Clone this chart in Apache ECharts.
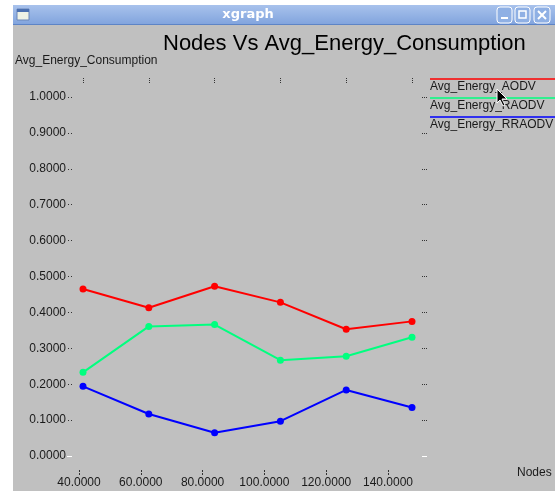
<!DOCTYPE html>
<html>
<head>
<meta charset="utf-8">
<script src="https://cdn.jsdelivr.net/npm/echarts@6/dist/echarts.min.js"></script>
<style>
html,body{margin:0;padding:0;background:#fff;}
#c{width:555px;height:491px;}
</style>
</head>
<body>
<div id="c"></div>
<script>
// ---- data ----
const nodes = [40, 60, 80, 100, 120, 140];
const aodv = [0.465, 0.413, 0.473, 0.428, 0.353, 0.375];
const raodv = [0.233, 0.361, 0.366, 0.267, 0.278, 0.331];
const rraodv = [0.194, 0.117, 0.065, 0.097, 0.184, 0.135];
const seriesNames = ['Avg_Energy_AODV', 'Avg_Energy_RAODV', 'Avg_Energy_RRAODV'];
const yTicks = [0.1, 0.2, 0.3, 0.4, 0.5, 0.6, 0.7, 0.8, 0.9, 1.0];
const yZeroTick = [0];
const titleText = 'Nodes Vs Avg_Energy_Consumption';
const yName = 'Avg_Energy_Consumption';
const xName = 'Nodes';
const windowTitle = 'xgraph';

const colors = ['#ff0000', '#00ff7f', '#0000ff'];
const FONT = '"Liberation Sans", Arial, sans-serif';
const TXT = '#1a1a1a';
const DOT = '#333333';

function pairs(vals) { return nodes.map((n, i) => [n, vals[i]]); }
const allVals = [aodv, raodv, rraodv];

const chart = echarts.init(document.getElementById('c'), null, {renderer: 'canvas'});

const legendGraphics = [];
seriesNames.forEach((name, i) => {
  const y = 79 + i * 19;
  legendGraphics.push({
    type: 'line', z: 10,
    shape: {x1: 430, y1: y, x2: 555, y2: y},
    style: {stroke: colors[i], lineWidth: 1.6}
  });
  legendGraphics.push({
    type: 'text', z: 10, x: 430, y: y + 2,
    style: {text: name, font: '12px ' + FONT, fill: TXT, textVerticalAlign: 'top'}
  });
});

const noLine = {show: false, onZero: false};

const option = {
  backgroundColor: '#ffffff',
  animation: false,
  graphic: [
    {type: 'rect', z: -10, shape: {x: 13, y: 25, width: 542, height: 466}, style: {fill: '#c0c0c0'}},
    {type: 'rect', z: -10, shape: {x: 13, y: 5, width: 542, height: 20},
      style: {fill: new echarts.graphic.LinearGradient(0, 0, 0, 1, [
        {offset: 0, color: '#a8c2ec'}, {offset: 1, color: '#80a3dd'}])}},
    {type: 'line', z: -9, shape: {x1: 13, y1: 24.5, x2: 555, y2: 24.5}, style: {stroke: '#5d84c6', lineWidth: 1}},
    // window icon
    {type: 'rect', z: -8, shape: {x: 17, y: 9, width: 12, height: 11}, style: {fill: '#eef2e6', stroke: '#6a86b8', lineWidth: 1}},
    {type: 'rect', z: -7, shape: {x: 17, y: 9, width: 12, height: 3}, style: {fill: '#4a6fb0'}},
    {type: 'text', z: -7, x: 248, y: 15,
      style: {text: windowTitle, font: 'bold 13px "DejaVu Sans", sans-serif', fill: '#ffffff', textAlign: 'center', textVerticalAlign: 'middle'}},
    // buttons
    {type: 'rect', z: -7, shape: {x: 497, y: 7, width: 15, height: 16, r: 3}, style: {fill: '#8fb0e4', stroke: '#ffffff', lineWidth: 1}},
    {type: 'line', z: -6, shape: {x1: 501, y1: 18, x2: 508, y2: 18}, style: {stroke: '#ffffff', lineWidth: 2}},
    {type: 'rect', z: -7, shape: {x: 515, y: 7, width: 15, height: 16, r: 3}, style: {fill: '#8fb0e4', stroke: '#ffffff', lineWidth: 1}},
    {type: 'rect', z: -6, shape: {x: 519, y: 11, width: 7, height: 7}, style: {fill: 'none', stroke: '#ffffff', lineWidth: 1.5}},
    {type: 'rect', z: -7, shape: {x: 534, y: 7, width: 16, height: 16, r: 3}, style: {fill: '#8fb0e4', stroke: '#ffffff', lineWidth: 1}},
    {type: 'line', z: -6, shape: {x1: 538, y1: 11, x2: 546, y2: 19}, style: {stroke: '#ffffff', lineWidth: 2}},
    {type: 'line', z: -6, shape: {x1: 546, y1: 11, x2: 538, y2: 19}, style: {stroke: '#ffffff', lineWidth: 2}},
    // texts
    {type: 'text', z: 5, x: 163, y: 44,
      style: {text: titleText, font: '22px ' + FONT, fill: '#000000', textVerticalAlign: 'middle'}},
    {type: 'text', z: 5, x: 15, y: 61,
      style: {text: yName, font: '12px ' + FONT, fill: TXT, textVerticalAlign: 'middle'}},
    {type: 'text', z: 5, x: 517, y: 473,
      style: {text: xName, font: '12px ' + FONT, fill: TXT, textVerticalAlign: 'middle'}},
    ...legendGraphics,
    // mouse cursor
    {type: 'polygon', z: 20, shape: {points: [[497, 89], [497, 103], [500, 100], [503, 106], [505, 105], [502, 99], [507, 99]]},
      style: {fill: '#000000', stroke: '#ffffff', lineWidth: 1}}
  ],
  grid: [
    {left: 83, right: 143, top: 97, bottom: 35},
    {left: 79, right: 167, top: 97, bottom: 35}
  ],
  xAxis: [
    {type: 'value', gridIndex: 0, min: 40, max: 140, show: false, axisLine: noLine},
    {type: 'value', gridIndex: 0, position: 'top', offset: 14, min: 40, max: 140, interval: 20,
      axisLine: noLine, splitLine: {show: false}, axisLabel: {show: false},
      axisTick: {show: true, length: 5, lineStyle: {color: DOT, width: 1, type: [1, 1]}}},
    {type: 'value', gridIndex: 1, position: 'bottom', offset: 14, min: 40, max: 140, interval: 20,
      axisLine: noLine, splitLine: {show: false},
      axisTick: {show: true, length: 5, lineStyle: {color: DOT, width: 1, type: [2, 1]}},
      axisLabel: {show: true, margin: 7, fontSize: 12, fontFamily: FONT, color: TXT,
        formatter: v => v.toFixed(4)}}
  ],
  yAxis: [
    {type: 'value', gridIndex: 0, position: 'left', offset: 11, min: 0, max: 1, interval: 0.1,
      axisLine: noLine, splitLine: {show: false},
      axisTick: {show: true, length: 5, customValues: yTicks, lineStyle: {color: DOT, width: 1, type: [1, 2]}},
      axisLabel: {show: true, margin: 6, fontSize: 12, fontFamily: FONT, color: TXT,
        formatter: v => v.toFixed(4)}},
    {type: 'value', gridIndex: 0, position: 'left', offset: 11, min: 0, max: 1, interval: 0.1,
      axisLine: noLine, splitLine: {show: false}, axisLabel: {show: false},
      axisTick: {show: true, length: 5, customValues: yZeroTick, lineStyle: {color: '#ffffff', width: 1}}},
    {type: 'value', gridIndex: 0, position: 'right', offset: 10, min: 0, max: 1, interval: 0.1,
      axisLine: noLine, splitLine: {show: false}, axisLabel: {show: false},
      axisTick: {show: true, length: 5, customValues: yTicks, lineStyle: {color: DOT, width: 1, type: [1, 1]}}},
    {type: 'value', gridIndex: 0, position: 'right', offset: 10, min: 0, max: 1, interval: 0.1,
      axisLine: noLine, splitLine: {show: false}, axisLabel: {show: false},
      axisTick: {show: true, length: 5, customValues: yZeroTick, lineStyle: {color: '#ffffff', width: 1}}},
    {type: 'value', gridIndex: 1, min: 0, max: 1, show: false, axisLine: noLine}
  ],
  series: seriesNames.map((name, i) => ({
    name: name,
    type: 'line',
    xAxisIndex: 0,
    yAxisIndex: 0,
    data: pairs(allVals[i]),
    symbol: 'circle',
    symbolSize: 7,
    showSymbol: true,
    lineStyle: {color: colors[i], width: 2},
    itemStyle: {color: colors[i]},
    z: 3 - i
  }))
};
chart.setOption(option);
</script>
</body>
</html>
